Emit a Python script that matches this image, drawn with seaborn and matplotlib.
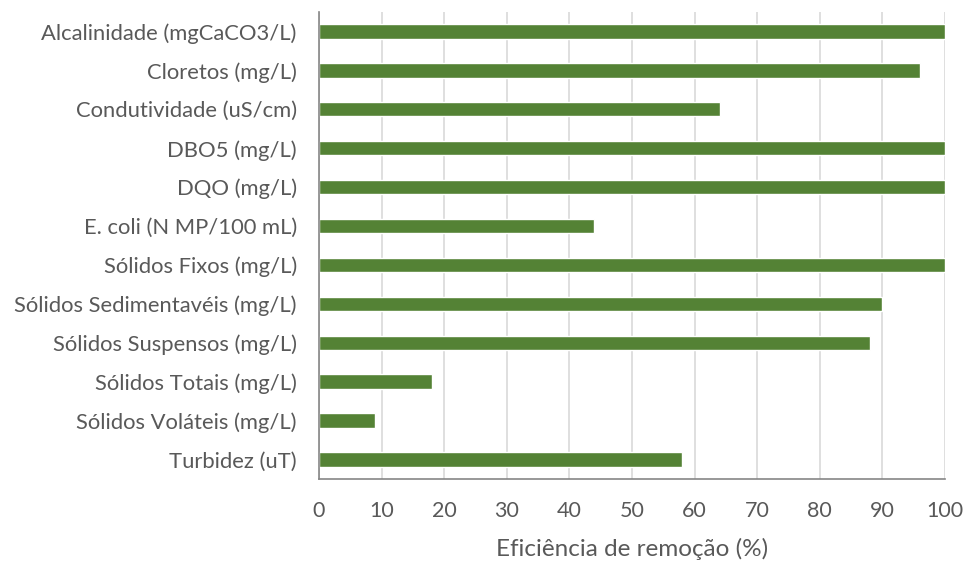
import pandas as pd
import matplotlib.pyplot as plt
import seaborn as sns

parametros = [
    "Alcalinidade (mgCaCO3/L)",
    "Cloretos (mg/L)",
    "Condutividade (uS/cm)",
    "DBO5 (mg/L)",
    "DQO (mg/L)",
    "E. coli (N MP/100 mL)",
    "Sólidos Fixos (mg/L)",
    "Sólidos Sedimentavéis (mg/L)",
    "Sólidos Suspensos (mg/L)",
    "Sólidos Totais (mg/L)",
    "Sólidos Voláteis (mg/L)",
    "Turbidez (uT)",
]
eficiencia = [100, 96, 64, 100, 100, 44, 100, 90, 88, 18, 9, 58]
x_ticks = [0, 10, 20, 30, 40, 50, 60, 70, 80, 90, 100]

df = pd.DataFrame({"parametro": parametros, "eficiencia": eficiencia})

sns.set_style("white")
plt.rcParams["font.family"] = ["Lato", "DejaVu Sans"]
text_color = "#595959"

fig = plt.figure(figsize=(9.65, 5.61), dpi=100)
ax = fig.add_axes([0.3306, 0.1462, 0.6487, 0.8324])

sns.barplot(data=df, x="eficiencia", y="parametro", color="#548235",
            saturation=1, width=0.37, ax=ax)

ax.set_xlim(0, 100)
ax.set_ylim(11.5, -0.5)
ax.set_xticks(x_ticks)
ax.set_axisbelow(True)
ax.grid(axis="x", color="#d9d9d9", linewidth=1.2)
ax.tick_params(axis="both", length=0, labelsize=15.5, colors=text_color)
ax.tick_params(axis="y", pad=16, labelsize=15.8)
ax.tick_params(axis="x", pad=16)

for side in ["top", "right"]:
    ax.spines[side].set_visible(False)
for side in ["left", "bottom"]:
    ax.spines[side].set_color("#868686")
    ax.spines[side].set_linewidth(1.2)

ax.set_ylabel("")
ax.set_xlabel("Eficiência de remoção (%)", fontsize=17.5, color=text_color, labelpad=12)

fig.savefig("out.png", dpi=100)
